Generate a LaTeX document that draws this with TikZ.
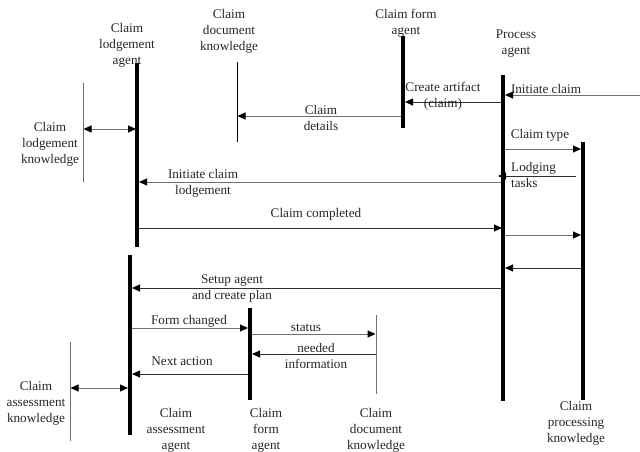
\documentclass[tikz,border=0pt]{standalone}
\usepackage{fontspec}
\setmainfont{Liberation Serif}
\usetikzlibrary{arrows.meta}
\definecolor{lgray}{HTML}{707070}
\definecolor{dgray}{HTML}{303030}
\tikzset{
  life/.style={line width=4pt, draw=black},
  know/.style={line width=1pt, draw=lgray},
  kblack/.style={line width=1pt, draw=black},
  msg/.style={line width=1pt, draw=dgray, -{Triangle[length=8pt,width=7pt,color=black]}},
  gmsg/.style={msg, draw=lgray},
  dmsg/.style={line width=1pt, draw=lgray, {Triangle[length=8pt,width=7pt,color=black]}-{Triangle[length=8pt,width=7pt,color=black]}},
  lbl/.style={font=\fontsize{13.2}{16}\selectfont, align=center, inner sep=0pt, text=black!85},
}
\begin{document}
\begin{tikzpicture}[x=1pt,y=-1pt]
\useasboundingbox (0,0) rectangle (640,452);
% lifeline ends
\coordinate (la-t) at (137,63);  \coordinate (la-b) at (137,247);
\coordinate (dk1-t) at (237,62); \coordinate (dk1-b) at (237,142);
\coordinate (cf1-t) at (403,36); \coordinate (cf1-b) at (403,128);
\coordinate (pa-t) at (503,75);  \coordinate (pa-b) at (503,401);
\coordinate (pk-t) at (583,142); \coordinate (pk-b) at (583,400);
\coordinate (lk-t) at (83,83);   \coordinate (lk-b) at (83,182);
\coordinate (aa-t) at (130,255); \coordinate (aa-b) at (130,435);
\coordinate (cf2-t) at (250,308); \coordinate (cf2-b) at (250,400);
\coordinate (dk2-t) at (376,315); \coordinate (dk2-b) at (376,394);
\coordinate (ak-t) at (70,342);  \coordinate (ak-b) at (70,441);
\coordinate (in) at (640,95);

\draw[life] (la-t) -- (la-b);
\draw[kblack] (dk1-t) -- (dk1-b);
\draw[life] (cf1-t) -- (cf1-b);
\draw[life] (pa-t) -- (pa-b);
\draw[life] (pk-t) -- (pk-b);
\draw[know] (lk-t) -- (lk-b);
\draw[life] (aa-t) -- (aa-b);
\draw[life] (cf2-t) -- (cf2-b);
\draw[know] (dk2-t) -- (dk2-b);
\draw[know] (ak-t) -- (ak-b);

% messages
\draw[gmsg, shorten >=2pt] (in) -- (pa-t |- in);
\draw[msg, shorten <=2pt, shorten >=2pt] (pa-t |- 0,102) -- (cf1-t |- 0,102);
\draw[gmsg, shorten <=2pt, shorten >=0.5pt] (cf1-t |- 0,116) -- (dk1-t |- 0,116);
\draw[dmsg, shorten <=0.5pt, shorten >=1pt] (lk-t |- 0,129) -- (la-t |- 0,129);
\draw[gmsg, shorten <=2pt, shorten >=2pt] (pa-t |- 0,149) -- (pk-t |- 0,149);
\draw[msg, shorten <=7pt, shorten >=-5pt] (pk-t |- 0,176) -- (pa-t |- 0,176);
\draw[gmsg, shorten <=2pt, shorten >=2pt] (pa-t |- 0,182) -- (la-t |- 0,182);
\draw[msg, shorten <=2pt, shorten >=1pt] (la-t |- 0,228) -- (pa-t |- 0,228);
\draw[gmsg, shorten <=2pt, shorten >=2pt] (pa-t |- 0,235) -- (pk-t |- 0,235);
\draw[msg, shorten <=2pt, shorten >=2pt] (pk-t |- 0,268) -- (pa-t |- 0,268);
\draw[msg, shorten <=2pt, shorten >=2pt] (pa-t |- 0,288) -- (aa-t |- 0,288);
\draw[gmsg, shorten <=2pt, shorten >=2pt] (aa-t |- 0,328) -- (cf2-t |- 0,328);
\draw[gmsg, shorten <=2pt, shorten >=0.5pt] (cf2-t |- 0,334) -- (dk2-t |- 0,334);
\draw[msg, shorten <=0.5pt, shorten >=2pt] (dk2-t |- 0,354) -- (cf2-t |- 0,354);
\draw[msg, shorten <=2pt, shorten >=2pt] (cf2-t |- 0,374) -- (aa-t |- 0,374);
\draw[dmsg, shorten <=0.5pt, shorten >=2pt] (ak-t |- 0,388) -- (aa-t |- 0,388);

% labels
\node[lbl] (t-la) at (127,45) {Claim\\lodgement\\agent};
\node[lbl] (t-dk1) at (229,31) {Claim\\document\\knowledge};
\node[lbl] (t-cf1) at (406,23.5) {Claim form\\agent};
\node[lbl] (t-pa) at (516,43.5) {Process\\agent};
\node[lbl] (t-ca) at (443,96.5) {Create artifact\\(claim)};
\node[lbl] (t-ic) at (546,89) {Initiate claim};
\node[lbl] (t-cd) at (321,117.5) {Claim\\details};
\node[lbl] (t-lk) at (50,144) {Claim\\lodgement\\knowledge};
\node[lbl] (t-ct) at (540,135) {Claim type};
\node[lbl, align=left, anchor=west] (t-lt) at (511,175) {Lodging\\tasks};
\node[lbl] (t-icl) at (203,183) {Initiate claim\\lodgement};
\node[lbl] (t-cc) at (316,214) {Claim completed};
\node[lbl] (t-su) at (232,289) {Setup agent\\and create plan};
\node[lbl] (t-fc) at (189,321) {Form changed};
\node[lbl] (t-st) at (306,328) {status};
\node[lbl] (t-ni) at (316,355.5) {needed\\information};
\node[lbl] (t-na) at (182,361) {Next action};
\node[lbl] (t-ak) at (36,403) {Claim\\assessment\\knowledge};
\node[lbl] (t-aa) at (176,430) {Claim\\assessment\\agent};
\node[lbl] (t-cf2) at (266,430) {Claim\\form\\agent};
\node[lbl] (t-dk2) at (376,430) {Claim\\document\\knowledge};
\node[lbl] (t-pk) at (576,423) {Claim\\processing\\knowledge};
\end{tikzpicture}
\end{document}
